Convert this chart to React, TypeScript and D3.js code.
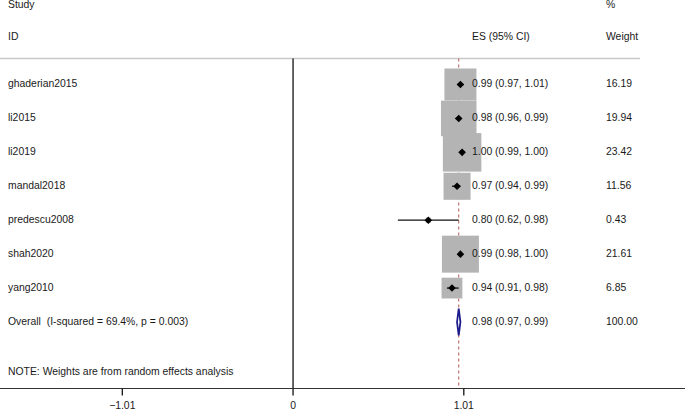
import React from "react";
import * as d3 from "d3";

const studies = ["ghaderian2015", "li2015", "li2019", "mandal2018", "predescu2008", "shah2020", "yang2010"];
const es = [0.99, 0.98, 1.0, 0.97, 0.8, 0.99, 0.94];
const lower = [0.97, 0.96, 0.99, 0.94, 0.62, 0.98, 0.91];
const upper = [1.01, 0.99, 1.0, 0.99, 0.98, 1.0, 0.98];
const weights = [16.19, 19.94, 23.42, 11.56, 0.43, 21.61, 6.85];
const overall = { label: "Overall  (I-squared = 69.4%, p = 0.003)", es: 0.98, lower: 0.97, upper: 0.99, weight: 100.0 };
const xTicks = [-1.01, 0, 1.01];
const note = "NOTE: Weights are from random effects analysis";

const W = 685;
const H = 412;
const FONT = "'Liberation Sans', Arial, Helvetica, sans-serif";

export default function App() {
  const x = d3.scaleLinear().domain([-1.01, 1.01]).range([122.3, 463.8]);
  const y = d3.scaleLinear().domain([0, 7]).range([84.5, 322]);
  const boxSide = d3.scaleSqrt().domain([0, 16.19]).range([0, 32]);
  const fmt = d3.format(".2f");
  const axisY = 388.5;
  const topY = 58.5;
  const textX = 8;
  const esX = 472;
  const wX = 606;
  const oy = y(studies.length);
  const ink = "#1a1a1a";

  const diamond = (cx: number, cy: number, r: number) =>
    `M${cx - r},${cy}L${cx},${cy - r}L${cx + r},${cy}L${cx},${cy + r}Z`;

  return (
    <svg width={W} height={H} style={{ position: "absolute", left: 0, top: 0, background: "#fff" }}
      fontFamily={FONT} fontSize={10.4}>
      <rect x={0} y={0} width={W} height={H} fill="#fff" />
      {/* headers */}
      <text x={textX} y={5} dominantBaseline="middle" fill={ink}>Study</text>
      <text x={textX} y={37.5} dominantBaseline="middle" fill={ink}>ID</text>
      <text x={esX} y={37.5} dominantBaseline="middle" fill={ink}>ES (95% CI)</text>
      <text x={wX} y={5} dominantBaseline="middle" fill={ink}>%</text>
      <text x={wX} y={37.5} dominantBaseline="middle" fill={ink}>Weight</text>
      <line x1={0} x2={640} y1={topY} y2={topY} stroke="#c8c8c8" strokeWidth={1.5} />

      {/* dashed overall line */}
      <line x1={x(overall.es)} x2={x(overall.es)} y1={topY} y2={axisY} stroke="#b85555"
        strokeWidth={1} strokeDasharray="3,3" />
      {/* null line */}
      <line x1={x(0)} x2={x(0)} y1={topY} y2={axisY} stroke="#111" strokeWidth={1.3} />

      {/* boxes */}
      {studies.map((s, i) => {
        const side = boxSide(weights[i]);
        return (
          <rect key={"b" + s} x={x(es[i]) - side / 2} y={y(i) - side / 2} width={side} height={side}
            fill="#b4b4b4" />
        );
      })}
      {/* CI lines & markers */}
      {studies.map((s, i) => (
        <g key={"m" + s}>
          <line x1={x(lower[i])} x2={x(upper[i])} y1={y(i)} y2={y(i)} stroke="#111" strokeWidth={1.3} />
          <path d={diamond(x(es[i]), y(i), 3.8)} fill="#000" />
        </g>
      ))}
      {/* overall diamond */}
      <path
        d={`M${x(overall.lower)},${oy}L${x(overall.es)},${oy - 13.5}L${x(overall.upper)},${oy}L${x(overall.es)},${oy + 13.5}Z`}
        fill="#fff" stroke="#1c1c8c" strokeWidth={1.8} />

      {/* labels */}
      {studies.map((s, i) => (
        <g key={"t" + s} fill={ink}>
          <text x={textX} y={y(i)} dominantBaseline="middle">{s}</text>
          <text x={esX} y={y(i)} dominantBaseline="middle">
            {`${fmt(es[i])} (${fmt(lower[i])}, ${fmt(upper[i])})`}
          </text>
          <text x={wX} y={y(i)} dominantBaseline="middle">{fmt(weights[i])}</text>
        </g>
      ))}
      <text x={textX} y={oy} dominantBaseline="middle" fill={ink} style={{ whiteSpace: "pre" }}>{overall.label}</text>
      <text x={esX} y={oy} dominantBaseline="middle" fill={ink}>
        {`${fmt(overall.es)} (${fmt(overall.lower)}, ${fmt(overall.upper)})`}
      </text>
      <text x={wX} y={oy} dominantBaseline="middle" fill={ink}>{fmt(overall.weight)}</text>
      <text x={textX} y={372} dominantBaseline="middle" fill={ink}>{note}</text>

      {/* axis */}
      <line x1={0} x2={W} y1={axisY} y2={axisY} stroke="#333" strokeWidth={1.2} />
      {xTicks.map((t) => (
        <g key={"tick" + t}>
          <line x1={x(t)} x2={x(t)} y1={axisY} y2={axisY + 7} stroke="#111" strokeWidth={1.3} />
          <text x={x(t)} y={406.5} textAnchor="middle" dominantBaseline="middle" fill={ink}>
            {t === 0 ? "0" : fmt(t)}
          </text>
        </g>
      ))}
    </svg>
  );
}
